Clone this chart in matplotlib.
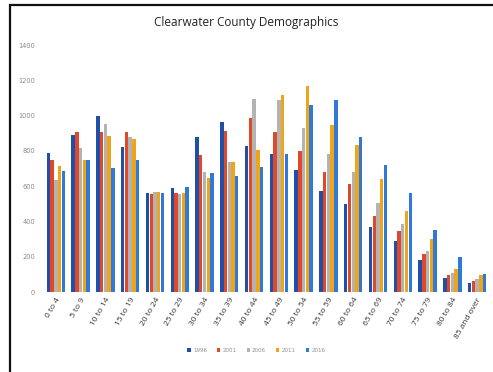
import numpy as np
import matplotlib.pyplot as plt
from matplotlib.patches import Rectangle

# Age groups and population counts per census year
age_groups = ['0 to 4', '5 to 9', '10 to 14', '15 to 19', '20 to 24', '25 to 29',
              '30 to 34', '35 to 39', '40 to 44', '45 to 49', '50 to 54', '55 to 59',
              '60 to 64', '65 to 69', '70 to 74', '75 to 79', '80 to 84', '85 and over']
years = ['1996', '2001', '2006', '2011', '2016']

pop_1996 = [788, 890, 999, 822, 560, 590, 879, 962, 828, 780, 690, 571, 500, 371, 291, 183, 80, 50]
pop_2001 = [750, 905, 905, 905, 555, 562, 776, 915, 985, 905, 800, 680, 611, 430, 348, 217, 97, 60]
pop_2006 = [634, 816, 954, 880, 565, 555, 680, 735, 1096, 1090, 930, 782, 680, 502, 388, 234, 108, 75]
pop_2011 = [714, 750, 882, 868, 568, 560, 648, 735, 805, 1119, 1165, 945, 836, 639, 457, 302, 131, 95]
pop_2016 = [688, 748, 702, 750, 562, 594, 676, 655, 710, 785, 1062, 1088, 879, 719, 560, 354, 200, 100]

series = [pop_1996, pop_2001, pop_2006, pop_2011, pop_2016]
colors = ['#1f4fa8', '#e0482a', '#b3b3b3', '#f0a418', '#2f7ad8']

fig = plt.figure(figsize=(4.93, 3.72), dpi=100)
ax = fig.add_axes([0.083, 0.215, 0.915, 0.664])

x = np.arange(len(age_groups))
w = 0.15
for i, (vals, c, yr) in enumerate(zip(series, colors, years)):
    ax.bar(x + (i - 2) * w, vals, width=w * 0.92, color=c, label=yr, linewidth=0)

ax.set_ylim(0, 1400)
ax.set_xlim(-0.6, len(age_groups) - 0.4)
ax.set_yticks(range(0, 1401, 200))
ax.tick_params(axis='y', labelsize=4.8, labelcolor='#8a8a8a', length=0, pad=4)
ax.set_xticks(x)
ax.set_xticklabels(age_groups, rotation=60, ha='right', rotation_mode='anchor',
                   fontsize=6, color='#333333', family='Open Sans')
ax.tick_params(axis='x', length=0, pad=3)
for s in ax.spines.values():
    s.set_visible(False)

fig.text(0.5, 0.94, 'Clearwater County Demographics', ha='center', va='center',
         fontsize=8.5, family='Open Sans', color='#222222')

leg = fig.legend(loc='center', bbox_to_anchor=(0.52, 0.058), ncol=5, frameon=False,
                 fontsize=4, handlelength=0.6, handleheight=0.6, columnspacing=1.8,
                 handletextpad=0.4)
for t in leg.get_texts():
    t.set_color('#909090')

# scanned page frame
fig.patches.append(Rectangle((0.02, -0.1), 1.2, 1.086, transform=fig.transFigure,
                             fill=False, edgecolor='#111111', linewidth=1.6))

fig.savefig('out.png', dpi=100)
